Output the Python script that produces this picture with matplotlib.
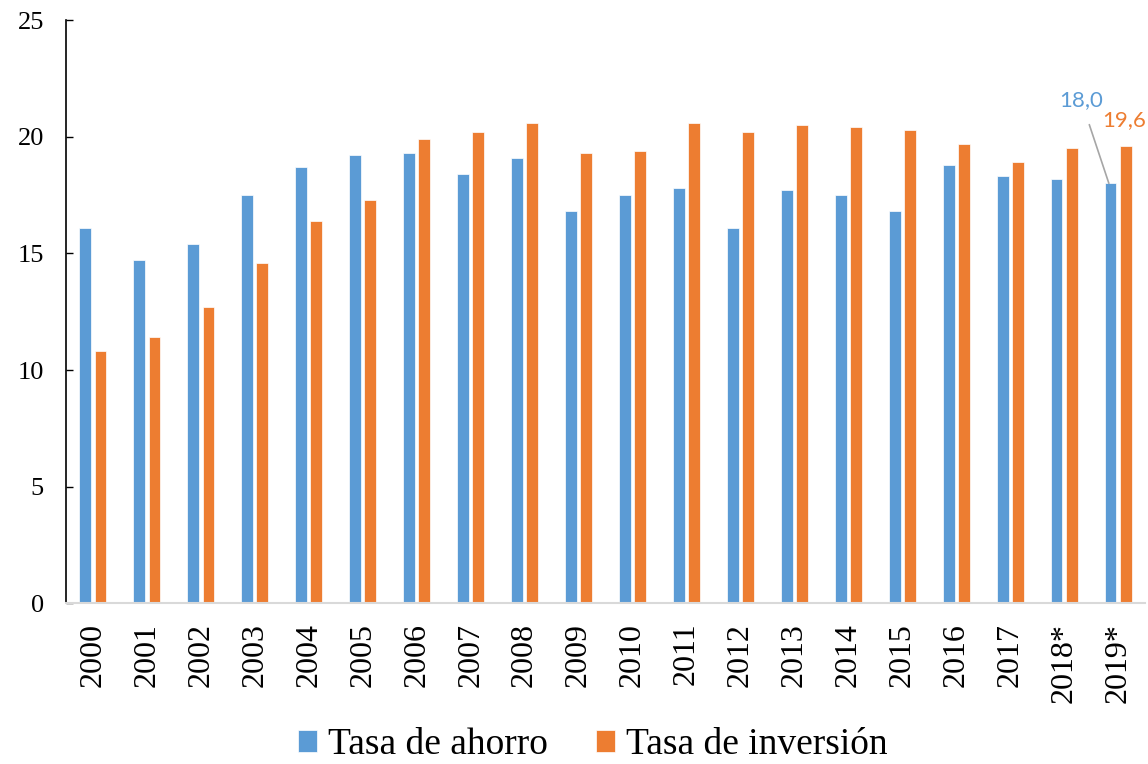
import numpy as np
import matplotlib
matplotlib.use('Agg')
import matplotlib.pyplot as plt

plt.rcParams['font.family'] = ['Liberation Serif', 'DejaVu Serif']

years = ['2000', '2001', '2002', '2003', '2004', '2005', '2006', '2007', '2008', '2009',
         '2010', '2011', '2012', '2013', '2014', '2015', '2016', '2017', '2018*', '2019*']
ahorro = [16.1, 14.7, 15.4, 17.5, 18.7, 19.2, 19.3, 18.4, 19.1, 16.8,
          17.5, 17.8, 16.1, 17.7, 17.5, 16.8, 18.8, 18.3, 18.2, 18.0]
inversion = [10.8, 11.4, 12.7, 14.6, 16.4, 17.3, 19.9, 20.2, 20.6, 19.3,
             19.4, 20.6, 20.2, 20.5, 20.4, 20.3, 19.7, 18.9, 19.5, 19.6]

azul = '#5B9BD5'
naranja = '#ED7D31'

fig = plt.figure(figsize=(11.48, 7.64), dpi=100)
ax = fig.add_axes([0.0575, 0.2103, 0.9399, 0.7635])

x = np.arange(len(years))
w = 0.22
off = 0.14
ax.bar(x - off, ahorro, w, color=azul, edgecolor='white', linewidth=0.5, label='Tasa de ahorro')
ax.bar(x + off, inversion, w, color=naranja, edgecolor='white', linewidth=0.5, label='Tasa de inversión')

ax.set_xlim(-0.5, len(years) - 0.5)
ax.set_ylim(0, 25)
ax.set_yticks([0, 5, 10, 15, 20, 25])
ax.set_xticks(x)
ax.set_xticklabels(years, rotation=90, fontsize=23)
ax.tick_params(axis='x', length=0, pad=14)
ax.tick_params(axis='y', direction='in', length=5, width=1, labelsize=19, pad=16)

for s in ['top', 'right']:
    ax.spines[s].set_visible(False)
ax.spines['left'].set_linewidth(1.2)
ax.spines['bottom'].set_color('#d9d9d9')
ax.spines['bottom'].set_linewidth(1.5)


def coma(v):
    return ('%.1f' % v).replace('.', ',')


# etiquetas del último año
i = len(years) - 1
ax.annotate(coma(ahorro[i]), xy=(x[i] - off - 0.03, ahorro[i]), xytext=(-20, 60),
            textcoords='offset points', ha='center', va='center', color=azul,
            fontsize=16, family=['Lato', 'DejaVu Sans'],
            arrowprops=dict(arrowstyle='-', color='#a6a6a6', lw=1.2, shrinkA=9, shrinkB=0))
ax.annotate(coma(inversion[i]), xy=(x[i] + off, inversion[i]),
            xytext=(-1, 19), textcoords='offset points', ha='center', va='center',
            color=naranja, fontsize=16, family=['Lato', 'DejaVu Sans'])

fig.legend(loc='center', bbox_to_anchor=(0.5165, 0.025), ncol=2, frameon=False,
           fontsize=27, handlelength=0.5, handleheight=0.5, handletextpad=0.3,
           columnspacing=1.3)

fig.savefig('out.png', dpi=100)
